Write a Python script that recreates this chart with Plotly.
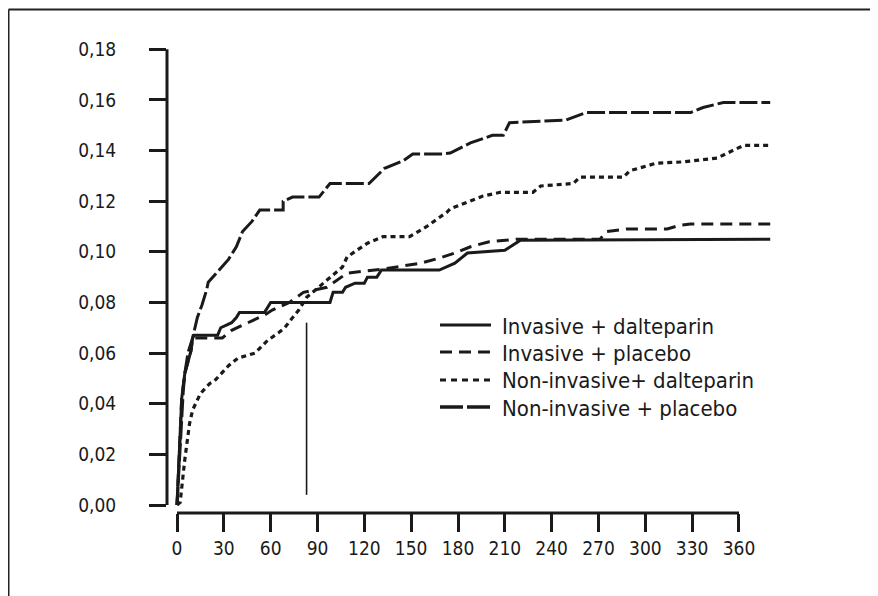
import plotly.graph_objects as go

# ---------------- data ----------------
series_names = ["Invasive + dalteparin", "Invasive + placebo",
                "Non-invasive+ dalteparin", "Non-invasive + placebo"]

days_inv_dal = [0, 1, 2, 3, 5, 7, 9, 10, 11, 26, 28, 35, 38, 40, 56, 60, 98, 100, 106, 108,
                114, 120, 122, 128, 131, 168, 178, 186, 210, 215, 220, 380]
risk_inv_dal = [0, 0.015, 0.03, 0.042, 0.052, 0.057, 0.061, 0.066, 0.067, 0.067, 0.070, 0.072,
                0.074, 0.076, 0.076, 0.080, 0.080, 0.084, 0.084, 0.086, 0.0876, 0.0876, 0.090,
                0.090, 0.0928, 0.0928, 0.0955, 0.0995, 0.1006, 0.1026, 0.1046, 0.105]

days_inv_pla = [0, 1, 2, 3, 5, 7, 9, 10, 11, 29, 35, 46, 56, 61, 72, 81, 96, 109, 115, 130,
                156, 168, 178, 188, 200, 218, 271, 275, 288, 314, 322, 329, 380]
risk_inv_pla = [0, 0.015, 0.03, 0.042, 0.052, 0.057, 0.061, 0.066, 0.066, 0.066, 0.069, 0.072,
                0.075, 0.077, 0.080, 0.084, 0.086, 0.0916, 0.092, 0.093, 0.0955, 0.0975,
                0.0995, 0.102, 0.104, 0.105, 0.105, 0.108, 0.109, 0.109, 0.1105, 0.111, 0.111]

days_non_dal = [0, 2, 5, 7, 8, 10, 15, 21, 24, 33, 39, 50, 54, 58, 65, 69, 74, 78, 83, 94,
                106, 109, 122, 132, 149, 160, 173, 175, 188, 196, 207, 228, 233, 254, 258,
                286, 290, 307, 324, 346, 356, 363, 380]
risk_non_dal = [0, 0.001, 0.018, 0.026, 0.032, 0.0375, 0.044, 0.048, 0.049, 0.055, 0.058,
                0.060, 0.0625, 0.065, 0.068, 0.070, 0.074, 0.077, 0.082, 0.0876, 0.094, 0.098,
                0.1034, 0.106, 0.106, 0.110, 0.1157, 0.117, 0.120, 0.122, 0.1235, 0.1235,
                0.126, 0.127, 0.1295, 0.1295, 0.132, 0.135, 0.1355, 0.137, 0.140, 0.142, 0.142]

days_non_pla = [0, 1, 2, 3, 4, 5, 7, 10, 13, 16, 19, 20, 26, 33, 38, 42, 48, 53, 68, 68, 74,
                91, 98, 123, 133, 145, 151, 170, 175, 188, 202, 209, 213, 249, 262, 329, 337,
                350, 380]
risk_non_pla = [0, 0.012, 0.025, 0.035, 0.045, 0.052, 0.060, 0.066, 0.074, 0.079, 0.085,
                0.088, 0.092, 0.097, 0.102, 0.108, 0.112, 0.1165, 0.1165, 0.120, 0.1216,
                0.1216, 0.127, 0.127, 0.133, 0.136, 0.1386, 0.1386, 0.139, 0.143, 0.146,
                0.146, 0.151, 0.152, 0.155, 0.155, 0.157, 0.159, 0.159]

marker_day = [83, 83]
marker_risk = [0.004, 0.072]

x_ticks = [0, 30, 60, 90, 120, 150, 180, 210, 240, 270, 300, 330, 360]
y_ticks = [0.00, 0.02, 0.04, 0.06, 0.08, 0.10, 0.12, 0.14, 0.16, 0.18]
y_tick_labels = ["0,00", "0,02", "0,04", "0,06", "0,08", "0,10", "0,12", "0,14", "0,16", "0,18"]

# ---------------- figure ----------------
FONT = "DejaVu Sans Condensed, Liberation Sans Narrow, sans-serif"
INK = "#1a1a1a"

# page body has an 8px margin, so the figure is sized/positioned accordingly
W, H = 870, 588
L, R, T, B = 159, 103, 41, 83
pw, ph = W - L - R, H - T - B
OFF = 8


def px_x(p):  # page pixel -> paper x
    return (p - OFF - L) / pw


def px_y(p):  # page pixel -> paper y
    return (H - B - (p - OFF)) / ph


fig = go.Figure()
curve_styles = [
    dict(dash="solid", width=3),
    dict(dash="12px,7px", width=3),
    dict(dash="5px,4px", width=3.2),
    dict(dash="18px,4px", width=3),
]
legend_styles = [
    dict(dash="solid", width=3),
    dict(dash="12px,7px", width=3),
    dict(dash="6px,5px", width=3.2),
    dict(dash="23px,4px", width=3.5),
]
all_days = [days_inv_dal, days_inv_pla, days_non_dal, days_non_pla]
all_risk = [risk_inv_dal, risk_inv_pla, risk_non_dal, risk_non_pla]
for name, d, r, st in zip(series_names, all_days, all_risk, curve_styles):
    fig.add_trace(go.Scatter(x=d, y=r, mode="lines", name=name, showlegend=False,
                             line=dict(color=INK, width=st["width"], dash=st["dash"])))

fig.add_trace(go.Scatter(x=marker_day, y=marker_risk, mode="lines", showlegend=False,
                         line=dict(color=INK, width=1.6)))

shapes = [
    # detached y axis line (0 to 0.18)
    dict(type="line", xref="paper", yref="y", x0=0, x1=0, y0=0, y1=0.18,
         line=dict(color=INK, width=3)),
    # detached x axis line (0 to 360)
    dict(type="line", xref="x", yref="paper", x0=0, x1=360, y0=0, y1=0,
         line=dict(color=INK, width=3)),
    # outer frame (top and left edges)
    dict(type="line", xref="paper", yref="paper",
         x0=px_x(8.5), x1=px_x(900), y0=px_y(9.5), y1=px_y(9.5),
         line=dict(color="#222", width=2)),
    dict(type="line", xref="paper", yref="paper",
         x0=px_x(8.5), x1=px_x(8.5), y0=px_y(9.5), y1=px_y(620),
         line=dict(color="#222", width=2)),
]
annotations = []
legend_rows = [325, 352, 380, 407]
for name, st, ry in zip(series_names, legend_styles, legend_rows):
    shapes.append(dict(type="line", xref="paper", yref="paper",
                       x0=px_x(440), x1=px_x(491), y0=px_y(ry), y1=px_y(ry),
                       line=dict(color=INK, width=st["width"], dash=st["dash"])))
    annotations.append(dict(xref="paper", yref="paper", x=px_x(500), y=px_y(ry + 1),
                            text=name, showarrow=False, xanchor="left", yanchor="middle",
                            font=dict(family=FONT, size=22, color=INK)))

fig.update_layout(
    width=W, height=H,
    margin=dict(l=L, r=R, t=T, b=B, pad=0),
    paper_bgcolor="white", plot_bgcolor="white",
    font=dict(family=FONT, size=18, color=INK),
    showlegend=False,
    xaxis=dict(range=[-6.41, 383.07], tickmode="array", tickvals=x_ticks,
               ticks="outside", ticklen=18, tickwidth=3, tickcolor=INK,
               showline=False, showgrid=False, zeroline=False,
               tickfont=dict(family=FONT, size=19, color=INK)),
    yaxis=dict(range=[-0.00316, 0.1801], tickmode="array", tickvals=y_ticks,
               ticktext=y_tick_labels, ticks="outside", ticklen=17, tickwidth=3,
               tickcolor=INK, ticklabelstandoff=29,
               showline=False, showgrid=False, zeroline=False,
               tickfont=dict(family=FONT, size=19, color=INK)),
    shapes=shapes,
    annotations=annotations,
)

fig.write_html("out.html")
